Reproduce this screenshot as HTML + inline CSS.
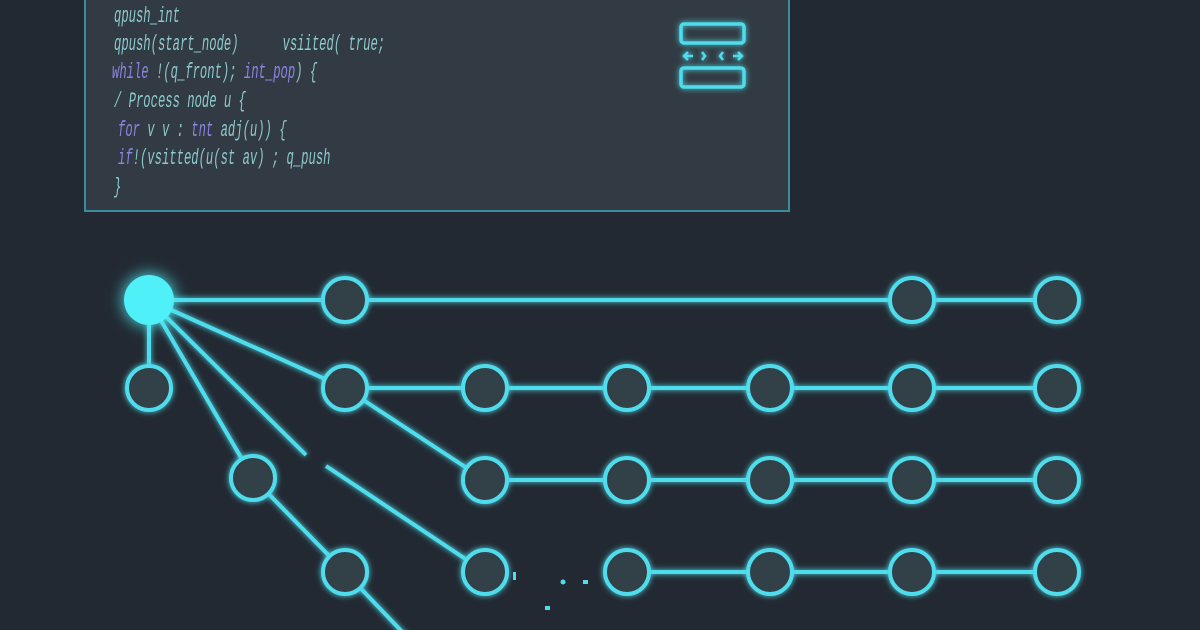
<!DOCTYPE html>
<html><head><style>
body{margin:0;width:1200px;height:630px;background:#222932;overflow:hidden;position:relative;font-family:"Liberation Mono",monospace}
.code{position:absolute;left:84px;top:-4px;width:702px;height:212px;background:#323b43;border:2px solid #3b8c9c;}
.l{position:absolute;left:28px;font-size:22px;font-style:italic;color:#8cc9cc;white-space:pre;transform:scaleX(0.555);transform-origin:0 0}
.k{color:#8b84e2}
</style></head><body>
<div class="code">
<div class="l" style="top:6px">qpush_int</div>
<div class="l" style="top:34px">qpush(start_node)      vsiited( true;</div>
<div class="l" style="top:62px;left:26px"><span class="k">while</span> !(q_front); <span class="k">int_pop</span>) {</div>
<div class="l" style="top:91px">/ Process node u {</div>
<div class="l" style="top:120px;left:32px"><span class="k">for</span> v v : <span class="k">tnt</span> adj(u)) {</div>
<div class="l" style="top:148px;left:32px"><span class="k">if</span>!(vsitted(u(st av) ; q_push</div>
<div class="l" style="top:177px">}</div>
</div>
<svg width="1200" height="630" style="position:absolute;left:0;top:0">
<defs><filter id="g" x="-50%" y="-50%" width="200%" height="200%"><feGaussianBlur stdDeviation="3" result="b"/><feMerge><feMergeNode in="b"/><feMergeNode in="SourceGraphic"/></feMerge></filter>
<filter id="g2" x="-100%" y="-100%" width="300%" height="300%"><feGaussianBlur stdDeviation="8" result="b"/><feMerge><feMergeNode in="b"/><feMergeNode in="SourceGraphic"/></feMerge></filter></defs>
<g stroke="#4fdcec" stroke-width="3.5" fill="none" filter="url(#g)">
<rect x="681" y="24" width="63" height="19" rx="3"/>
<rect x="681" y="68" width="63" height="19" rx="3"/>
<path d="M685 56h8M688 52l-4 4 4 4M702 52l3 4-3 4M723 52l-3 4 3 4M733 56h9M738 52l4 4-4 4" stroke-width="2.5"/>
</g>
<g stroke="#4fdcec" stroke-width="4" fill="none" filter="url(#g)">
<line x1="149" y1="300" x2="1057" y2="300"/>
<line x1="149" y1="300" x2="149" y2="388"/>
<line x1="345" y1="388" x2="1057" y2="388"/>
<line x1="485" y1="480" x2="1057" y2="480"/>
<line x1="627" y1="572" x2="1057" y2="572"/>
<line x1="149" y1="300" x2="345" y2="388"/>
<polyline points="149,300 253,478 345,572 410,640"/>
<line x1="149" y1="300" x2="306" y2="455"/>
<line x1="326" y1="466" x2="485" y2="572"/>
<line x1="345" y1="388" x2="485" y2="480"/>
</g>
<g stroke="#4fdcec" stroke-width="4" fill="#333f47" filter="url(#g)">
<circle cx="345" cy="300" r="22"/><circle cx="912" cy="300" r="22"/><circle cx="1057" cy="300" r="22"/>
<circle cx="149" cy="388" r="22"/><circle cx="345" cy="388" r="22"/><circle cx="485" cy="388" r="22"/><circle cx="627" cy="388" r="22"/><circle cx="770" cy="388" r="22"/><circle cx="912" cy="388" r="22"/><circle cx="1057" cy="388" r="22"/>
<circle cx="253" cy="478" r="22"/><circle cx="485" cy="480" r="22"/><circle cx="627" cy="480" r="22"/><circle cx="770" cy="480" r="22"/><circle cx="912" cy="480" r="22"/><circle cx="1057" cy="480" r="22"/>
<circle cx="345" cy="572" r="22"/><circle cx="485" cy="572" r="22"/><circle cx="627" cy="572" r="22"/><circle cx="770" cy="572" r="22"/><circle cx="912" cy="572" r="22"/><circle cx="1057" cy="572" r="22"/>
</g>
<circle cx="149" cy="300" r="25" fill="#4ff0f8" filter="url(#g2)"/>
<g fill="#4fdcec"><circle cx="563" cy="582" r="2.5"/><rect x="583" y="580" width="5" height="4"/><rect x="545" y="606" width="5" height="4"/><rect x="513" y="572" width="3" height="8"/></g>
</svg>
</body></html>
